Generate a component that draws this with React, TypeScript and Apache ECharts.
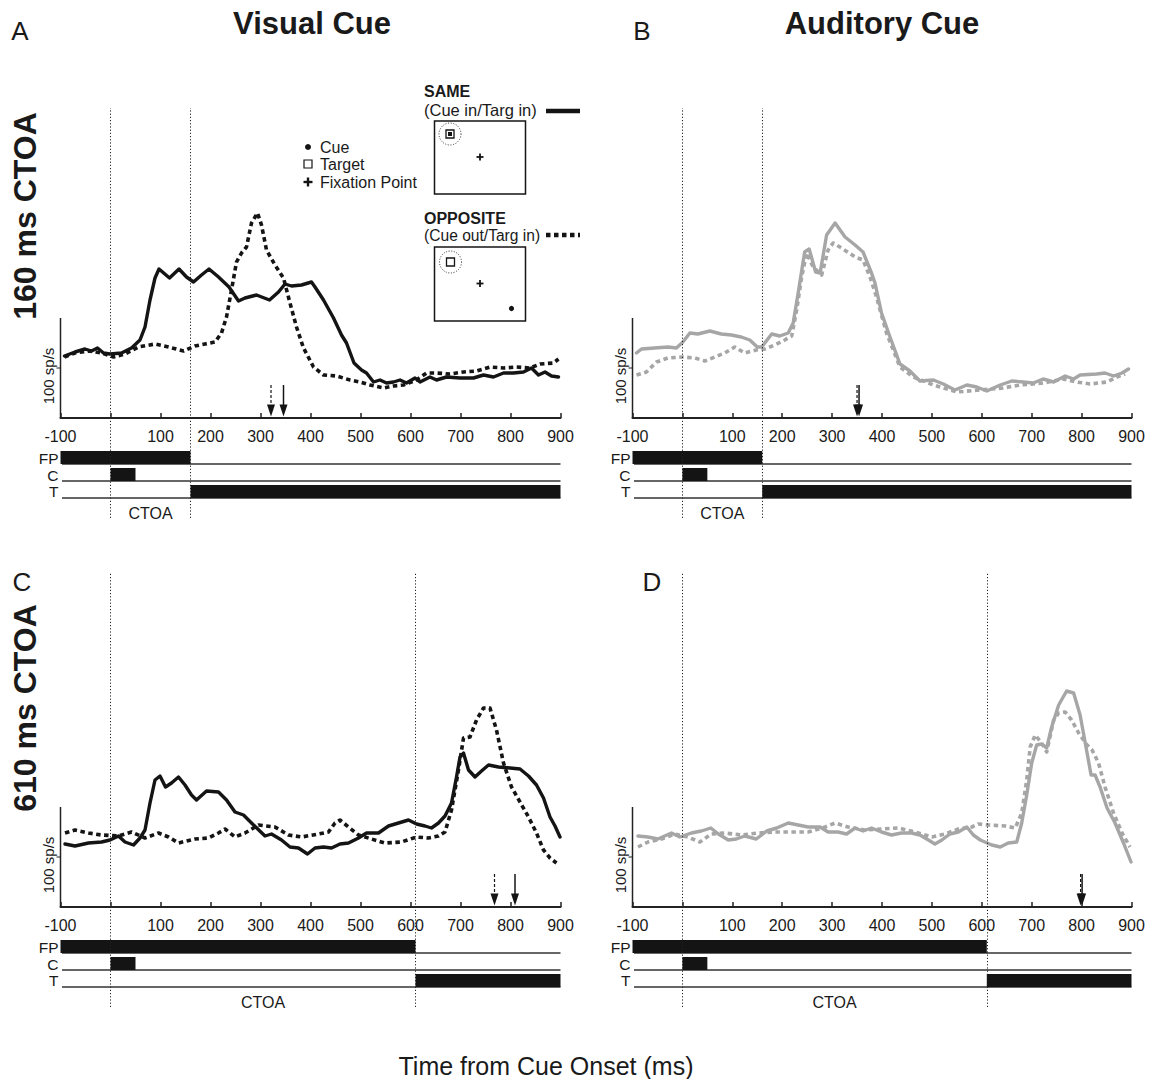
import React, { useEffect, useRef } from 'react';
import * as echarts from 'echarts';

// ---------- data (time in ms, firing rate in sp/s relative to baseline) ----------
const X_MIN = -100;
const X_MAX = 900;
const X_STEP = 100;

const A_SAME: number[][] = [[-92,62],[-71,66],[-51,69],[-38,67],[-26,70],[-14,65],[-1,64],[22,65],[42,70],[59,78],[69,91],[79,118],[89,140],[97,149],[118,140],[137,149],[152,141],[166,136],[182,143],[197,149],[216,141],[237,131],[256,117],[269,120],[292,123],[318,118],[336,126],[349,134],[362,132],[382,133],[402,136],[409,131],[426,118],[446,100],[462,83],[472,75],[487,55],[502,48],[512,45],[526,36],[539,38],[552,35],[566,36],[579,38],[592,35],[609,40],[619,36],[639,41],[652,38],[672,41],[699,40],[726,40],[746,43],[766,41],[786,45],[806,45],[826,46],[842,50],[856,43],[869,46],[882,42],[896,41]];
const A_OPP: number[][] = [[-92,61],[-71,65],[-44,67],[-18,65],[6,61],[29,64],[56,71],[89,74],[116,71],[146,67],[169,72],[189,74],[209,76],[222,85],[232,101],[242,128],[252,156],[262,165],[272,171],[282,195],[294,205],[302,193],[312,168],[329,153],[346,140],[359,115],[372,91],[386,70],[406,51],[426,43],[452,42],[479,38],[499,36],[519,33],[546,30],[566,32],[586,33],[612,38],[632,45],[652,45],[679,44],[706,46],[732,47],[759,51],[786,50],[812,51],[839,50],[859,54],[886,55],[896,59]];

const B_SAME: number[][] = [[-92,65],[-82,69],[-56,70],[-29,71],[-12,70],[1,76],[15,85],[31,84],[55,87],[78,84],[98,83],[118,81],[135,78],[150,71],[159,71],[179,84],[195,82],[212,85],[222,95],[232,125],[245,166],[254,169],[267,146],[276,145],[289,183],[306,195],[326,181],[346,173],[362,166],[379,145],[386,135],[399,105],[416,81],[436,54],[456,47],[476,37],[503,38],[523,34],[546,28],[570,33],[590,31],[610,27],[637,33],[660,37],[683,36],[703,35],[723,39],[744,36],[767,42],[784,39],[797,43],[830,44],[847,45],[864,42],[881,45],[894,49]];
const B_OPP: number[][] = [[-92,43],[-72,46],[-52,56],[-29,60],[1,61],[25,60],[45,57],[65,61],[85,65],[105,71],[125,65],[148,68],[165,69],[185,73],[205,78],[219,82],[229,108],[239,141],[249,165],[262,151],[279,143],[292,168],[302,175],[319,170],[346,161],[362,158],[376,141],[389,121],[409,85],[436,51],[463,41],[503,33],[550,26],[596,28],[643,30],[677,33],[723,35],[764,39],[790,36],[817,34],[851,36],[871,41],[887,44]];

const C_SAME: number[][] = [[-91,63],[-71,61],[-44,64],[-18,65],[-1,67],[16,71],[29,65],[46,62],[59,69],[69,77],[79,104],[89,127],[99,131],[110,120],[122,124],[136,130],[149,122],[162,112],[172,107],[192,116],[216,115],[232,107],[249,95],[266,92],[282,84],[309,71],[322,73],[342,67],[359,60],[376,59],[394,53],[409,59],[426,60],[442,59],[459,63],[476,64],[496,69],[512,74],[536,74],[556,81],[576,84],[596,87],[612,83],[629,81],[642,79],[656,84],[669,91],[682,104],[692,130],[699,150],[706,154],[716,137],[729,130],[742,136],[756,142],[776,140],[799,139],[819,138],[836,131],[852,122],[866,109],[879,90],[889,81],[899,70]];
const C_OPP: number[][] = [[-91,74],[-71,77],[-44,74],[-18,72],[16,71],[42,75],[69,69],[96,74],[116,70],[136,64],[169,68],[196,69],[216,74],[229,78],[249,70],[269,74],[296,82],[329,80],[356,72],[382,70],[416,73],[436,75],[449,84],[459,87],[476,80],[496,72],[522,68],[549,64],[582,65],[612,70],[636,69],[656,71],[669,75],[682,97],[696,137],[706,169],[719,170],[732,187],[746,199],[759,199],[772,177],[786,144],[802,120],[819,105],[836,90],[852,74],[866,57],[879,49],[892,44]];

const D_SAME: number[][] = [[-89,71],[-69,70],[-49,68],[-22,74],[-5,70],[18,74],[38,76],[57,79],[72,73],[92,67],[108,68],[125,71],[148,68],[169,76],[189,79],[212,84],[232,82],[252,80],[276,80],[292,75],[312,75],[329,73],[346,79],[362,76],[379,79],[399,75],[419,72],[439,74],[459,74],[476,72],[493,67],[506,63],[520,67],[536,73],[553,75],[570,80],[583,72],[597,67],[620,62],[637,60],[653,64],[670,65],[680,84],[690,112],[700,144],[710,162],[720,163],[730,159],[740,180],[754,202],[770,216],[784,214],[797,192],[811,154],[819,132],[827,132],[837,120],[851,99],[867,84],[884,64],[899,45]];
const D_OPP: number[][] = [[-89,60],[-69,65],[-42,68],[-15,73],[11,70],[35,65],[58,73],[85,74],[118,72],[152,74],[185,75],[219,75],[252,75],[286,80],[306,84],[332,80],[366,77],[399,78],[433,79],[466,75],[500,70],[526,73],[553,78],[580,80],[593,83],[613,82],[647,81],[667,79],[680,94],[690,127],[697,160],[707,172],[720,164],[730,155],[744,187],[754,194],[767,195],[780,187],[794,174],[811,162],[821,157],[834,144],[847,120],[864,94],[881,74],[897,60]];

// response latency arrows: [time, isOpposite(1) / isSame(0)]
const A_ARROWS: number[][] = [[321, 1], [346, 0]];
const B_ARROWS: number[][] = [[350, 1], [354, 0]];
const C_ARROWS: number[][] = [[768, 1], [809, 0]];
const D_ARROWS: number[][] = [[798, 1], [801, 0]];

const CTOA_SHORT = 160;
const CTOA_LONG = 610;
const CUE_DURATION = 50;
const SCALE_BAR = 100; // sp/s

const ROW_NAMES = ['FP', 'C', 'T'];

// ---------- layout / style ----------
const FONT = '"Liberation Sans", Arial, Helvetica, sans-serif';
const BLACK = '#141414';
const GRAY = '#a6a6a6';
const Y_MIN = -100;
const ROWS = [
  { top: -33, base: -46, label: -40.5 },
  { top: -50, base: -63, label: -57 },
  { top: -67, base: -80, label: -73.5 },
];

function textStyle(text: string, size: number, bold = false, align = 'left', vAlign = 'middle', fill = '#1a1a1a') {
  return {
    text,
    fill,
    font: `${bold ? 'bold ' : ''}${size}px ${FONT}`,
    align,
    verticalAlign: vAlign,
    textAlign: align,
    textVerticalAlign: vAlign,
  };
}

function buildOption() {
  const panels = [
    { grid: { left: 60.5, top: 108, width: 500, height: 410 }, ymax: 310, same: A_SAME, opp: A_OPP, color: BLACK, ctoa: CTOA_SHORT, arrows: A_ARROWS },
    { grid: { left: 632.5, top: 108, width: 499, height: 410 }, ymax: 310, same: B_SAME, opp: B_OPP, color: GRAY, ctoa: CTOA_SHORT, arrows: B_ARROWS },
    { grid: { left: 60.5, top: 572, width: 500, height: 435 }, ymax: 335, same: C_SAME, opp: C_OPP, color: BLACK, ctoa: CTOA_LONG, arrows: C_ARROWS },
    { grid: { left: 632.5, top: 572, width: 499, height: 435 }, ymax: 335, same: D_SAME, opp: D_OPP, color: GRAY, ctoa: CTOA_LONG, arrows: D_ARROWS },
  ];

  const grid: any[] = [];
  const xAxis: any[] = [];
  const yAxis: any[] = [];
  const series: any[] = [];

  panels.forEach((p, i) => {
    grid.push({ ...p.grid, containLabel: false, outerBoundsMode: 'none' });
    // place the time axis at y = 0 (zero line sits |Y_MIN| units above the grid bottom)
    const zeroOffset = -(p.grid.height * (0 - Y_MIN)) / (p.ymax - Y_MIN);
    xAxis.push({
      type: 'value', gridIndex: i, min: X_MIN, max: X_MAX, interval: X_STEP,
      position: 'bottom', offset: zeroOffset,
      axisLine: { show: true, onZero: false, lineStyle: { color: '#222', width: 2 } },
      axisTick: { show: true, inside: true, length: 5, lineStyle: { color: '#222', width: 1.5 } },
      axisLabel: {
        show: true, margin: 10, fontSize: 16, color: '#1a1a1a', fontFamily: FONT,
        formatter: (v: number) => (v === 0 ? '' : String(v)),
      },
      splitLine: { show: false },
    });
    yAxis.push({ type: 'value', gridIndex: i, min: Y_MIN, max: p.ymax, show: false });

    const ax = { xAxisIndex: i, yAxisIndex: i };

    // Opposite (dashed)
    series.push({
      type: 'line', ...ax, data: p.opp, symbol: 'none', z: 3,
      lineStyle: { color: p.color, width: 3.6, type: [4.5, 3.5], cap: 'butt', join: 'round' },
    });
    // Same (solid) + dotted event lines
    series.push({
      type: 'line', ...ax, data: p.same, symbol: 'none', z: 4,
      lineStyle: { color: p.color, width: 3.4, type: 'solid', cap: 'round', join: 'round' },
      markLine: {
        silent: true, symbol: ['none', 'none'], label: { show: false }, animation: false,
        lineStyle: { type: [1.2, 2], color: '#222', width: 1 },
        data: [{ xAxis: 0 }, { xAxis: p.ctoa }],
      },
    });

    // Timeline rows (baselines + labels)
    series.push({
      type: 'custom', ...ax, z: 2, silent: true,
      data: ROW_NAMES.map((_, r) => [X_MIN, r]),
      renderItem: (params: any, api: any) => {
        const r = api.value(1);
        const row = ROWS[r];
        const a = api.coord([X_MIN + 3, row.base]);
        const b = api.coord([X_MAX, row.base]);
        const l = api.coord([X_MIN, row.label]);
        return {
          type: 'group',
          children: [
            { type: 'line', shape: { x1: a[0], y1: a[1], x2: b[0], y2: b[1] }, style: { stroke: '#333', lineWidth: 1.3 } },
            { type: 'text', x: l[0] - 2, y: l[1], style: textStyle(ROW_NAMES[r], 15.5, false, 'right') },
          ],
        };
      },
    });

    // Timeline events (FP on, cue, target)
    series.push({
      type: 'custom', ...ax, z: 3, silent: true,
      data: [[X_MIN, p.ctoa, 0], [0, CUE_DURATION, 1], [p.ctoa, X_MAX, 2]],
      renderItem: (params: any, api: any) => {
        const row = ROWS[api.value(2)];
        const p0 = api.coord([api.value(0), row.top]);
        const p1 = api.coord([api.value(1), row.base]);
        return {
          type: 'rect',
          shape: { x: p0[0], y: p0[1], width: p1[0] - p0[0], height: p1[1] - p0[1] },
          style: { fill: BLACK },
        };
      },
    });

    // CTOA label
    series.push({
      type: 'custom', ...ax, z: 3, silent: true,
      data: [[0, p.ctoa]],
      renderItem: (params: any, api: any) => {
        const c = api.coord([(api.value(0) + api.value(1)) / 2, -95]);
        return { type: 'text', x: c[0], y: c[1], style: textStyle('CTOA', 16, false, 'center') };
      },
    });

    // Scale bar (100 sp/s)
    series.push({
      type: 'custom', ...ax, z: 3, silent: true,
      data: [[X_MIN, SCALE_BAR]],
      renderItem: (params: any, api: any) => {
        const x = api.value(0);
        const h = api.value(1);
        const p0 = api.coord([x, 0]);
        const p1 = api.coord([x, h]);
        const pm = api.coord([x, h / 2]);
        const lp = api.coord([x, h * 0.42]);
        return {
          type: 'group',
          children: [
            { type: 'line', shape: { x1: p0[0], y1: p0[1], x2: p1[0], y2: p1[1] }, style: { stroke: '#222', lineWidth: 1.5 } },
            { type: 'line', shape: { x1: pm[0] - 4, y1: pm[1], x2: pm[0], y2: pm[1] }, style: { stroke: '#222', lineWidth: 1 } },
            { type: 'text', x: lp[0] - 12, y: lp[1], rotation: Math.PI / 2, style: textStyle(`${h} sp/s`, 15, false, 'center') },
          ],
        };
      },
    });

    // Latency arrows
    series.push({
      type: 'custom', ...ax, z: 5, silent: true,
      data: p.arrows,
      renderItem: (params: any, api: any) => {
        const x = api.value(0);
        const dashed = api.value(1) === 1;
        const top = api.coord([x, 33]);
        const tip = api.coord([x, 1.5]);
        const headY = tip[1] - 12;
        return {
          type: 'group',
          children: [
            { type: 'line', shape: { x1: top[0], y1: top[1], x2: tip[0], y2: headY + 1 }, style: { stroke: BLACK, lineWidth: dashed ? 1.2 : 1.5, lineDash: dashed ? [3, 2] : null } },
            { type: 'polygon', shape: { points: [[tip[0], tip[1]], [tip[0] - 4, headY], [tip[0] + 4, headY]] }, style: { fill: BLACK } },
          ],
        };
      },
    });
  });

  const plus = (cx: number, cy: number, s: number, w: number) => [
    { type: 'line', shape: { x1: cx - s, y1: cy, x2: cx + s, y2: cy }, style: { stroke: BLACK, lineWidth: w } },
    { type: 'line', shape: { x1: cx, y1: cy - s, x2: cx, y2: cy + s }, style: { stroke: BLACK, lineWidth: w } },
  ];

  const graphic: any[] = [
    { type: 'text', x: 312, y: 23, style: textStyle('Visual Cue', 31, true, 'center') },
    { type: 'text', x: 882, y: 23, style: textStyle('Auditory Cue', 31, true, 'center') },
    { type: 'text', x: 20, y: 31, style: textStyle('A', 26, false, 'center') },
    { type: 'text', x: 642, y: 31, style: textStyle('B', 26, false, 'center') },
    { type: 'text', x: 22, y: 582, style: textStyle('C', 26, false, 'center') },
    { type: 'text', x: 652, y: 582, style: textStyle('D', 26, false, 'center') },
    { type: 'text', x: 25, y: 216, rotation: Math.PI / 2, style: textStyle('160 ms CTOA', 32, true, 'center') },
    { type: 'text', x: 25, y: 708, rotation: Math.PI / 2, style: textStyle('610 ms CTOA', 32, true, 'center') },
    { type: 'text', x: 546, y: 1066, style: textStyle('Time from Cue Onset (ms)', 25, false, 'center') },

    // key
    { type: 'circle', shape: { cx: 308, cy: 147, r: 3 }, style: { fill: BLACK } },
    { type: 'text', x: 320, y: 147, style: textStyle('Cue', 16) },
    { type: 'rect', shape: { x: 304, y: 160, width: 8, height: 8 }, style: { fill: 'none', stroke: BLACK, lineWidth: 1.2 } },
    { type: 'text', x: 320, y: 164.5, style: textStyle('Target', 16) },
    ...plus(308, 182, 4.5, 2.4),
    { type: 'text', x: 320, y: 182.5, style: textStyle('Fixation Point', 16) },

    // legend: same
    { type: 'text', x: 424, y: 91, style: textStyle('SAME', 16, true) },
    { type: 'text', x: 424, y: 110, style: textStyle('(Cue in/Targ in)', 16.5) },
    { type: 'line', shape: { x1: 546, y1: 111, x2: 580, y2: 111 }, style: { stroke: BLACK, lineWidth: 4.5 } },
    { type: 'rect', shape: { x: 434.5, y: 121, width: 91, height: 73 }, style: { fill: 'none', stroke: BLACK, lineWidth: 1.5 } },
    { type: 'circle', shape: { cx: 450, cy: 134, r: 11 }, style: { fill: 'none', stroke: '#333', lineWidth: 1, lineDash: [1, 1.6] } },
    { type: 'rect', shape: { x: 446, y: 130, width: 8, height: 8 }, style: { fill: 'none', stroke: BLACK, lineWidth: 1.3 } },
    { type: 'rect', shape: { x: 448, y: 132, width: 4, height: 4 }, style: { fill: BLACK } },
    ...plus(480, 157, 3.5, 1.8),

    // legend: opposite
    { type: 'text', x: 424, y: 218, style: textStyle('OPPOSITE', 16, true) },
    { type: 'text', x: 424, y: 235, style: textStyle('(Cue out/Targ in)', 15.6) },
    { type: 'line', shape: { x1: 546, y1: 235, x2: 580, y2: 235 }, style: { stroke: BLACK, lineWidth: 4.5, lineDash: [4.5, 3.5] } },
    { type: 'rect', shape: { x: 434.5, y: 247, width: 91, height: 74 }, style: { fill: 'none', stroke: BLACK, lineWidth: 1.5 } },
    { type: 'circle', shape: { cx: 450.5, cy: 262, r: 11 }, style: { fill: 'none', stroke: '#333', lineWidth: 1, lineDash: [1, 1.6] } },
    { type: 'rect', shape: { x: 446.5, y: 258, width: 8, height: 8 }, style: { fill: 'none', stroke: BLACK, lineWidth: 1.3 } },
    ...plus(480, 283.5, 3.5, 1.8),
    { type: 'circle', shape: { cx: 511.5, cy: 308.5, r: 2.6 }, style: { fill: BLACK } },
  ];

  return { animation: false, backgroundColor: '#ffffff', grid, xAxis, yAxis, series, graphic };
}

export default function App() {
  const ref = useRef<HTMLDivElement | null>(null);
  useEffect(() => {
    if (!ref.current) return;
    const chart = echarts.init(ref.current, null, { renderer: 'svg' });
    chart.setOption(buildOption() as any);
    return () => chart.dispose();
  }, []);
  return (
    <div
      ref={ref}
      style={{ position: 'absolute', left: 0, top: 0, width: 1150, height: 1079, background: '#fff' }}
    />
  );
}
